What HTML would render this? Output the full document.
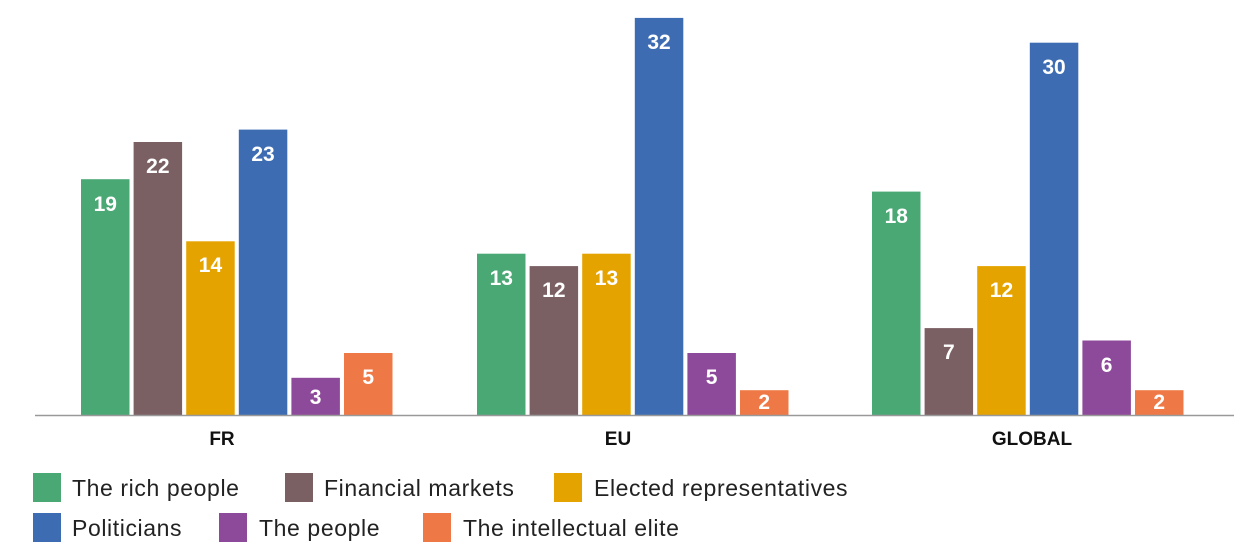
<!DOCTYPE html>
<html><head><style>
body{margin:0;background:#fff;}
svg{display:block;font-family:"Liberation Sans",sans-serif;}
.v{fill:#fff;font-weight:bold;font-size:21px;text-anchor:middle;}
.c{fill:#111;font-weight:bold;font-size:19px;text-anchor:middle;}
.l{fill:#222;font-size:23px;letter-spacing:0.6px;}
</style></head><body>
<svg width="1244" height="558" viewBox="0 0 1244 558">
<rect x="81" y="179.2" width="48.5" height="235.8" fill="#4aa874"/><text class="v" x="105.25" y="211">19</text>
<rect x="133.6" y="142" width="48.5" height="273" fill="#7a5f63"/><text class="v" x="157.85" y="173">22</text>
<rect x="186.2" y="241.3" width="48.5" height="173.7" fill="#e5a300"/><text class="v" x="210.45" y="272">14</text>
<rect x="238.8" y="129.6" width="48.5" height="285.4" fill="#3d6cb3"/><text class="v" x="263.05" y="161">23</text>
<rect x="291.4" y="377.8" width="48.5" height="37.2" fill="#8e4a9a"/><text class="v" x="315.65" y="404">3</text>
<rect x="344" y="353" width="48.5" height="62" fill="#ef7946"/><text class="v" x="368.25" y="384">5</text>

<rect x="477" y="253.7" width="48.5" height="161.3" fill="#4aa874"/><text class="v" x="501.25" y="285">13</text>
<rect x="529.6" y="266.1" width="48.5" height="148.9" fill="#7a5f63"/><text class="v" x="553.85" y="297">12</text>
<rect x="582.2" y="253.7" width="48.5" height="161.3" fill="#e5a300"/><text class="v" x="606.45" y="285">13</text>
<rect x="634.8" y="17.9" width="48.5" height="397.1" fill="#3d6cb3"/><text class="v" x="659.05" y="49">32</text>
<rect x="687.4" y="353" width="48.5" height="62" fill="#8e4a9a"/><text class="v" x="711.65" y="384">5</text>
<rect x="740" y="390.2" width="48.5" height="24.8" fill="#ef7946"/><text class="v" x="764.25" y="409">2</text>

<rect x="872" y="191.6" width="48.5" height="223.4" fill="#4aa874"/><text class="v" x="896.25" y="223">18</text>
<rect x="924.6" y="328.1" width="48.5" height="86.9" fill="#7a5f63"/><text class="v" x="948.85" y="359">7</text>
<rect x="977.2" y="266.1" width="48.5" height="148.9" fill="#e5a300"/><text class="v" x="1001.45" y="297">12</text>
<rect x="1029.8" y="42.7" width="48.5" height="372.3" fill="#3d6cb3"/><text class="v" x="1054.05" y="74">30</text>
<rect x="1082.4" y="340.5" width="48.5" height="74.5" fill="#8e4a9a"/><text class="v" x="1106.65" y="372">6</text>
<rect x="1135" y="390.2" width="48.5" height="24.8" fill="#ef7946"/><text class="v" x="1159.25" y="409">2</text>

<line x1="35" y1="415.5" x2="1234" y2="415.5" stroke="#999" stroke-width="1.5"/>
<text class="c" x="222" y="445">FR</text>
<text class="c" x="618" y="445">EU</text>
<text class="c" x="1032" y="445">GLOBAL</text>
<rect x="33" y="473" width="28" height="29" fill="#4aa874"/><text class="l" x="72" y="496">The rich people</text>
<rect x="285" y="473" width="28" height="29" fill="#7a5f63"/><text class="l" x="324" y="496">Financial markets</text>
<rect x="554" y="473" width="28" height="29" fill="#e5a300"/><text class="l" x="594" y="496">Elected representatives</text>
<rect x="33" y="513" width="28" height="29" fill="#3d6cb3"/><text class="l" x="72" y="536">Politicians</text>
<rect x="219" y="513" width="28" height="29" fill="#8e4a9a"/><text class="l" x="259" y="536">The people</text>
<rect x="423" y="513" width="28" height="29" fill="#ef7946"/><text class="l" x="463" y="536">The intellectual elite</text>
</svg>
</body></html>
